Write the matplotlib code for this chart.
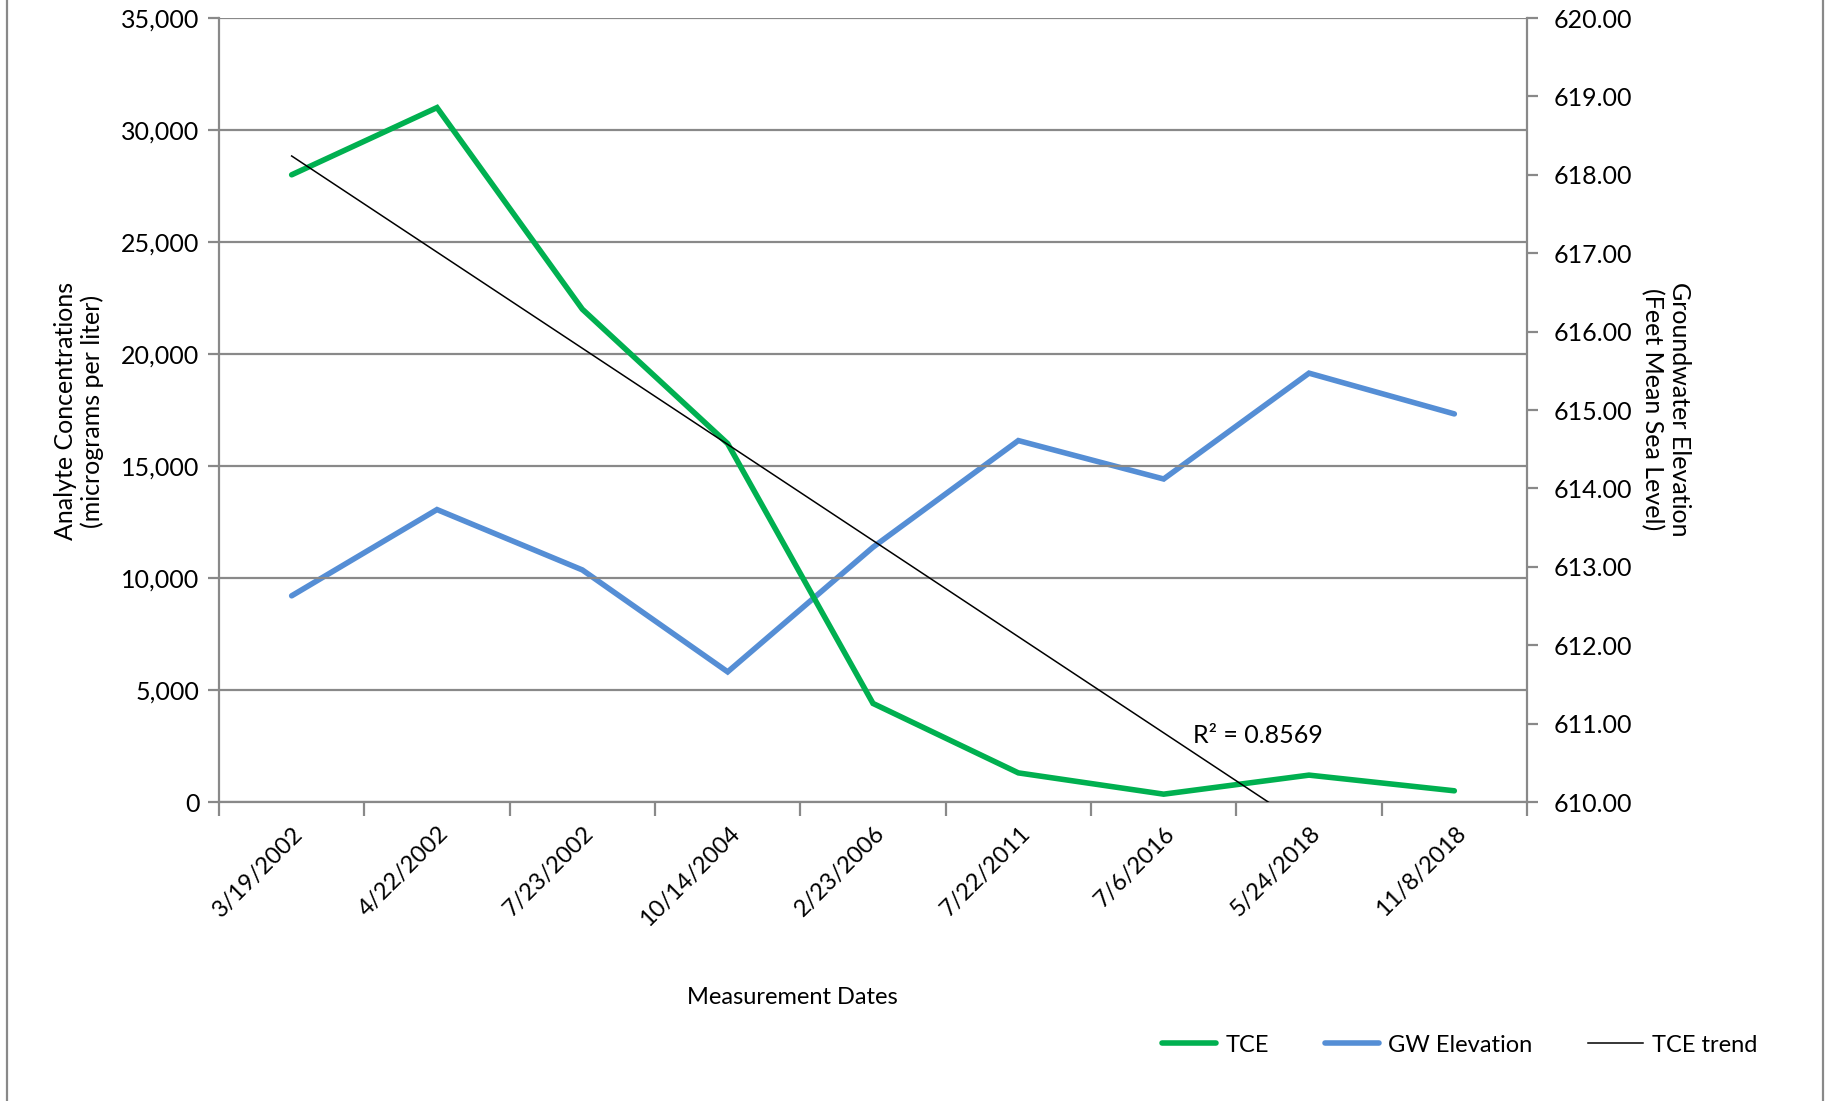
import matplotlib
matplotlib.use("Agg")
import matplotlib.pyplot as plt
import matplotlib.transforms as mtransforms
from matplotlib.lines import Line2D
import numpy as np

plt.rcParams['font.family'] = ['Lato', 'DejaVu Sans']

# ---------------- data ----------------
dates = ["3/19/2002", "4/22/2002", "7/23/2002", "10/14/2004", "2/23/2006",
         "7/22/2011", "7/6/2016", "5/24/2018", "11/8/2018"]
tce = [28000, 31000, 22000, 16000, 4400, 1300, 350, 1200, 500]
gw_elev = [612.63, 613.73, 612.96, 611.66, 613.25, 614.61, 614.12, 615.47, 614.95]
trend_start = 28840     # TCE trend value at first date
trend_slope = -4292     # per measurement step
r2_text = "R\u00b2 = 0.8569"

left_ticks = [0, 5000, 10000, 15000, 20000, 25000, 30000, 35000]
right_ticks = [610, 611, 612, 613, 614, 615, 616, 617, 618, 619, 620]

# ---------------- figure ----------------
W, H = 1827, 1101
fig = plt.figure(figsize=(W / 100, H / 100), dpi=100)
fig.patch.set_facecolor("white")

x0, x1, y0, y1 = 219, 1527, 18, 802
ax = fig.add_axes([x0 / W, 1 - y1 / H, (x1 - x0) / W, (y1 - y0) / H])
ax2 = ax.twinx()

gray = "#898989"
green = "#00B050"
blue = "#558ED5"
fs = 17
fs_y = 18

x = np.arange(len(dates))
ax.set_xlim(-0.5, len(dates) - 0.5)
ax.set_ylim(0, 35000)
ax2.set_ylim(610, 620)

# gridlines
ax.set_yticks(left_ticks)
ax.yaxis.grid(True, color=gray, linewidth=1.6)
ax.set_axisbelow(True)
ax.set_yticklabels([f"{v:,}" for v in left_ticks], fontsize=fs_y)
ax2.set_yticks(right_ticks)
ax2.set_yticklabels([f"{v:.2f}" for v in right_ticks], fontsize=fs_y)

for a in (ax, ax2):
    for s in a.spines.values():
        s.set_visible(False)
ax.spines['left'].set_visible(True)
ax.spines['bottom'].set_visible(True)
ax2.spines['right'].set_visible(True)
for s in (ax.spines['left'], ax.spines['bottom'], ax2.spines['right']):
    s.set_color(gray)
    s.set_linewidth(1.6)

ax.tick_params(axis='y', length=8, width=1.6, color=gray, pad=6, labelcolor="black")
ax2.tick_params(axis='y', length=8, width=1.6, color=gray, pad=11, labelcolor="black")

# x ticks: labels at categories, tick marks at boundaries
ax.set_xticks(x)
ax.set_xticklabels(dates, fontsize=fs, rotation=45, ha='right', va='top',
                   rotation_mode='anchor')
ax.tick_params(axis='x', which='major', length=0, pad=15)
ax.set_xticks(np.arange(len(dates) + 1) - 0.5, minor=True)
ax.tick_params(axis='x', which='minor', length=10, width=1.6, color=gray)
off = mtransforms.ScaledTranslation(1 / 100, 0, fig.dpi_scale_trans)
for lab in ax.get_xticklabels():
    lab.set_transform(lab.get_transform() + off)

# series
ax2.plot(x, gw_elev, color=blue, linewidth=4.0, solid_capstyle='round',
         solid_joinstyle='miter', zorder=3)
ax.plot(x, tce, color=green, linewidth=4.0, solid_capstyle='round',
        solid_joinstyle='miter', zorder=4)
trend = [trend_start + trend_slope * i for i in x]
ax.plot(x, trend, color="black", linewidth=1.1, zorder=5)
ax.set_zorder(ax2.get_zorder() + 1)
ax.patch.set_visible(False)

ax.text(6.20, 2950, r2_text, fontsize=fs_y, va='center', ha='left', zorder=6)

# axis titles
fig.text(79 / W, 1 - 411 / H, "Analyte Concentrations\n(micrograms per liter)",
         rotation=90, ha='center', va='center', fontsize=18, linespacing=1.2)
fig.text(1666 / W, 1 - 409 / H, "Groundwater Elevation\n(Feet Mean Sea Level)",
         rotation=270, ha='center', va='center', fontsize=18, linespacing=1.2)
fig.text(792 / W, 1 - 998 / H, "Measurement Dates", ha='center', va='center',
         fontsize=fs)

# legend
handles = [Line2D([], [], color=green, linewidth=4.0, solid_capstyle='round'),
           Line2D([], [], color=blue, linewidth=4.0, solid_capstyle='round'),
           Line2D([], [], color="black", linewidth=1.1)]
fig.legend(handles, ["TCE", "GW Elevation", "TCE trend"], loc='center left',
           bbox_to_anchor=(1162 / W, 1 - 1045 / H), ncol=3, frameon=False,
           fontsize=fs, handlelength=2.3, handletextpad=0.4, columnspacing=2.35,
           borderaxespad=0, borderpad=0)

# outer frame (left and right edges visible)
fig.add_artist(Line2D([7 / W, 7 / W], [0, 1], color=gray, linewidth=1.6,
                      transform=fig.transFigure))
fig.add_artist(Line2D([1823 / W, 1823 / W], [0, 1], color=gray, linewidth=1.6,
                      transform=fig.transFigure))

fig.savefig("out.png", dpi=100, facecolor="white")
